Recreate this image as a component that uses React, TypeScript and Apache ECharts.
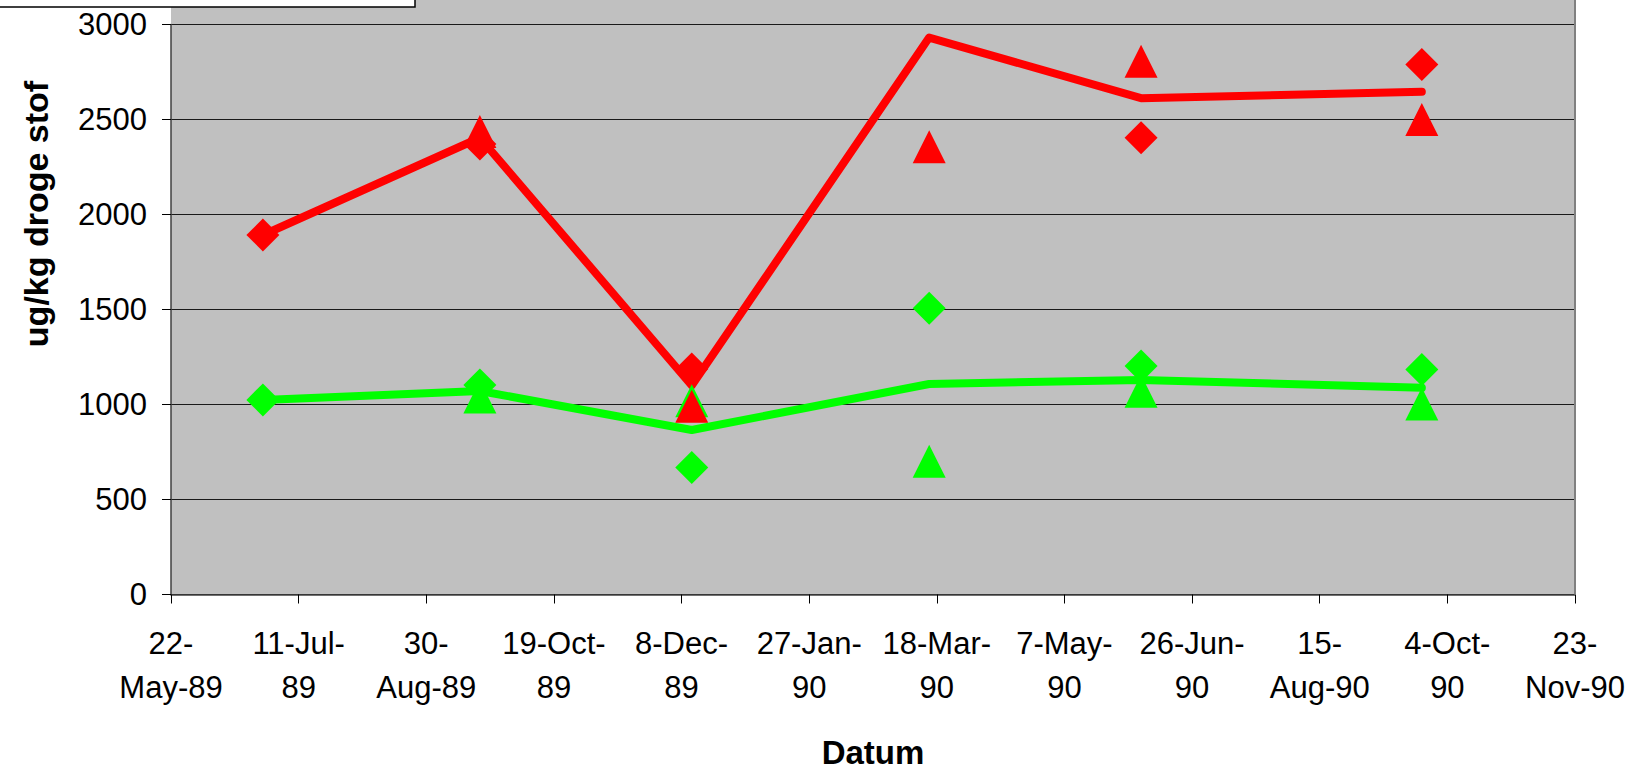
import React, { useEffect, useRef } from "react";
import * as echarts from "echarts";

// ---- data ----
const sampleDates = ["1989-06-27", "1989-09-20", "1989-12-12", "1990-03-15", "1990-06-06", "1990-09-24"];
const redLine = [1892, 2404, 1100, 2931, 2612, 2646];
const redDiamond: (number | null)[] = [1892, 2371, 1187, null, 2404, 2790];
const redTriangle: (number | null)[] = [null, 2437, 991, 2357, 2806, 2500];
const greenLine = [1024, 1071, 866, 1108, 1129, 1088];
const greenDiamond: (number | null)[] = [1024, 1103, 669, 1506, 1203, 1184];
const greenTriangle: (number | null)[] = [null, 1040, 1020, 701, 1070, 1003];

const xAxisStart = "1989-05-22";
const xAxisEnd = "1990-11-23";
const xTickDays = 50;
const xTickLabels = [
  "22-\nMay-89", "11-Jul-\n89", "30-\nAug-89", "19-Oct-\n89", "8-Dec-\n89", "27-Jan-\n90",
  "18-Mar-\n90", "7-May-\n90", "26-Jun-\n90", "15-\nAug-90", "4-Oct-\n90", "23-\nNov-90",
];
const yMin = 0;
const yMax = 3000;
const yStep = 500;

const xTitle = "Datum";
const yTitle = "ug/kg droge stof";

// ---- helpers ----
function serial(d: string): number {
  const [y, m, dd] = d.split("-").map(Number);
  return Math.round((Date.UTC(y, m - 1, dd) - Date.UTC(1899, 11, 30)) / 86400000);
}
function pairs(vals: (number | null)[]) {
  return sampleDates
    .map((d, i) => [serial(d), vals[i]] as [number, number | null])
    .filter((p) => p[1] !== null);
}

const W = 1641;
const H = 779;
const GRID_LEFT = 171;
const GRID_RIGHT = 66;
const GRID_TOP = 24.5;
const GRID_BOTTOM = 184.5;
const FONT = "'Liberation Sans', Arial, Helvetica, sans-serif";
const RED = "#ff0000";
const GREEN = "#00ff00";
const PLOT_BG = "#c0c0c0";

export default function App() {
  const ref = useRef<HTMLDivElement>(null);
  useEffect(() => {
    if (!ref.current) return;
    const chart = echarts.init(ref.current, null, { renderer: "svg" });
    const xMin = serial(xAxisStart);
    const xMax = serial(xAxisEnd);
    const plotRight = W - GRID_RIGHT;
    const plotBottom = H - GRID_BOTTOM;

    const lineSeries = (name: string, vals: number[], color: string, width: number, z: number) => ({
      type: "line",
      name,
      data: pairs(vals),
      symbol: "none",
      showSymbol: false,
      lineStyle: { color, width, cap: "round", join: "round" },
      z,
    });
    const scatterSeries = (name: string, vals: (number | null)[], color: string, symbol: string, z: number) => ({
      type: "scatter",
      name,
      data: pairs(vals),
      symbol,
      symbolSize: [33, 33],
      itemStyle: { color, opacity: 1 },
      z,
    });

    chart.setOption({
      animation: false,
      backgroundColor: "#ffffff",
      textStyle: { fontFamily: FONT },
      grid: {
        left: GRID_LEFT,
        right: GRID_RIGHT,
        top: GRID_TOP,
        bottom: GRID_BOTTOM,
        containLabel: false,
        show: true,
        backgroundColor: PLOT_BG,
        borderWidth: 0,
      },
      xAxis: {
        type: "value",
        min: xMin,
        max: xMax,
        interval: xTickDays,
        axisLine: { show: true, onZero: false, lineStyle: { color: "#404040", width: 1.5 } },
        axisTick: { show: true, length: 9, lineStyle: { color: "#000000", width: 1 } },
        splitLine: { show: false },
        axisLabel: {
          show: true,
          fontSize: 31,
          lineHeight: 44,
          color: "#000000",
          fontFamily: FONT,
          margin: 27,
          align: "center",
          showMinLabel: true,
          showMaxLabel: true,
          formatter: (v: number) => xTickLabels[Math.round((v - xMin) / xTickDays)] ?? "",
        },
      },
      yAxis: {
        type: "value",
        min: yMin,
        max: yMax,
        interval: yStep,
        axisLine: { show: true, lineStyle: { color: "#404040", width: 1.5 } },
        axisTick: { show: true, length: 9, lineStyle: { color: "#000000", width: 1 } },
        splitLine: { show: true, lineStyle: { color: "#1a1a1a", width: 1 } },
        axisLabel: {
          fontSize: 31,
          color: "#000000",
          fontFamily: FONT,
          margin: 24,
          formatter: (v: number) => String(v),
        },
      },
      graphic: [
        {
          type: "rect",
          z: -10,
          silent: true,
          shape: { x: GRID_LEFT, y: 0, width: plotRight - GRID_LEFT, height: GRID_TOP - 0.5 },
          style: { fill: PLOT_BG },
        },
        {
          type: "line",
          z: 5,
          silent: true,
          shape: { x1: plotRight, y1: 0, x2: plotRight, y2: plotBottom },
          style: { stroke: "#808080", lineWidth: 2 },
        },
        {
          type: "rect",
          z: 100,
          silent: true,
          shape: { x: -2, y: -2, width: 417, height: 9 },
          style: { fill: "#ffffff", stroke: "#000000", lineWidth: 1.5 },
        },
        {
          type: "text",
          z: 100,
          x: (GRID_LEFT + plotRight) / 2,
          y: 752,
          style: {
            text: xTitle,
            fontSize: 33,
            fontWeight: "bold",
            fontFamily: FONT,
            fill: "#000000",
            align: "center",
            verticalAlign: "middle",
          },
        },
        {
          type: "text",
          z: 100,
          x: 36,
          y: 214,
          rotation: Math.PI / 2,
          style: {
            text: yTitle,
            fontSize: 34,
            fontWeight: "bold",
            fontFamily: FONT,
            fill: "#000000",
            align: "center",
            verticalAlign: "middle",
          },
        },
      ],
      series: [
        lineSeries("rood gemiddeld", redLine, RED, 8, 2),
        scatterSeries("rood ruit", redDiamond, RED, "diamond", 3),
        scatterSeries("groen driehoek", greenTriangle, GREEN, "triangle", 3),
        scatterSeries("rood driehoek", redTriangle, RED, "triangle", 4),
        lineSeries("groen gemiddeld", greenLine, GREEN, 8, 5),
        scatterSeries("groen ruit", greenDiamond, GREEN, "diamond", 6),
      ],
    });
    return () => chart.dispose();
  }, []);
  return (
    <div
      ref={ref}
      style={{ position: "absolute", left: 0, top: 0, width: W, height: H, background: "#ffffff" }}
    />
  );
}
